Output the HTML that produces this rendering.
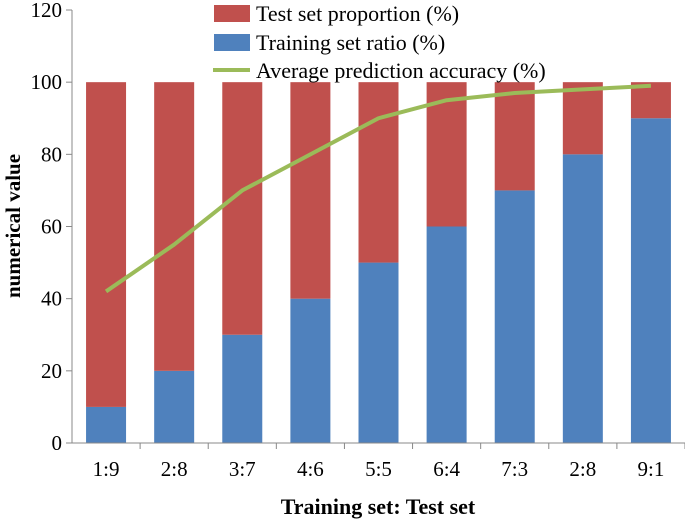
<!DOCTYPE html>
<html><head><meta charset="utf-8"><style>
html,body{margin:0;padding:0;background:#fff;}
svg text{font-family:"Liberation Serif",serif;fill:#000;}
</style></head><body>
<svg id="chart" width="685" height="523" xmlns="http://www.w3.org/2000/svg">
<g id="grid"></g>
<g id="bars"></g>
<g id="lineg"></g>
<g id="axes"></g>
<g id="legend">
  <rect x="214" y="5" width="36" height="17" fill="#C0504D"/>
  <text x="256" y="21" font-size="22">Test set proportion (%)</text>
  <rect x="214" y="34" width="36" height="17" fill="#4F81BD"/>
  <text x="256" y="50" font-size="22">Training set ratio (%)</text>
  <line x1="213" y1="70" x2="250" y2="70" stroke="#9BBB59" stroke-width="4"/>
  <text x="256" y="78" font-size="22">Average prediction accuracy (%)</text>
</g>
<text x="20" y="226" font-size="21" font-weight="bold" text-anchor="middle" transform="rotate(-90 20 226)">numerical value</text>
<text x="378" y="514" font-size="22" font-weight="bold" text-anchor="middle">Training set: Test set</text>
</svg>
<script>
const categories=["1:9","2:8","3:7","4:6","5:5","6:4","7:3","2:8","9:1"];
const training=[10,20,30,40,50,60,70,80,90];
const test=[90,80,70,60,50,40,30,20,10];
const accuracy=[42,55,70,80,90,95,97,98,99];
const yTicks=[0,20,40,60,80,100,120];
const NS="http://www.w3.org/2000/svg";
const x0=72,x1=685,y0=443,yTop=10,yMax=120;
const step=(x1-x0)/categories.length;
function xc(i){return x0+step*(i+0.5);}
function y(v){return y0-(v/yMax)*(y0-yTop);}
function mk(tag,attrs,parent){const e=document.createElementNS(NS,tag);for(const k in attrs)e.setAttribute(k,attrs[k]);parent.appendChild(e);return e;}
const axes=document.getElementById('axes'),bars=document.getElementById('bars'),lg=document.getElementById('lineg');
let ax=mk('line',{x1:x0,y1:yTop,x2:x0,y2:y0,stroke:'#888','stroke-width':1},axes);


let bx=mk('line',{x1:x0,y1:y0,x2:x1,y2:y0,stroke:'#888','stroke-width':1},axes);


yTicks.forEach(t=>{
  mk('line',{x1:x0-6,y1:y(t),x2:x0,y2:y(t),stroke:'#888'},axes);
  const tx=mk('text',{x:x0-10,y:y(t)+7,'font-size':21,'text-anchor':'end'},axes);
  tx.textContent=t;
  
  
});
const bw=40;
categories.forEach((c,i)=>{
  const cx=xc(i);
  mk('line',{x1:x0+step*(i+1),y1:y0,x2:x0+step*(i+1),y2:y0+6,stroke:'#888'},axes);
  const b=mk('rect',{x:cx-bw/2,y:y(training[i]),width:bw,height:y0-y(training[i]),fill:'#4F81BD'},bars);
  
  
  const r=mk('rect',{x:cx-bw/2,y:y(training[i]+test[i]),width:bw,height:y(training[i])-y(training[i]+test[i]),fill:'#C0504D'},bars);
  
  
  const t=mk('text',{x:cx,y:y0+33,'font-size':21,'text-anchor':'middle'},axes);
  t.textContent=c;
  
  
});
const pts=accuracy.map((v,i)=>xc(i)+','+y(v)).join(' ');
const pl=mk('polyline',{points:pts,fill:'none',stroke:'#9BBB59','stroke-width':4,'stroke-linejoin':'round'},lg);


</script>
</body></html>
